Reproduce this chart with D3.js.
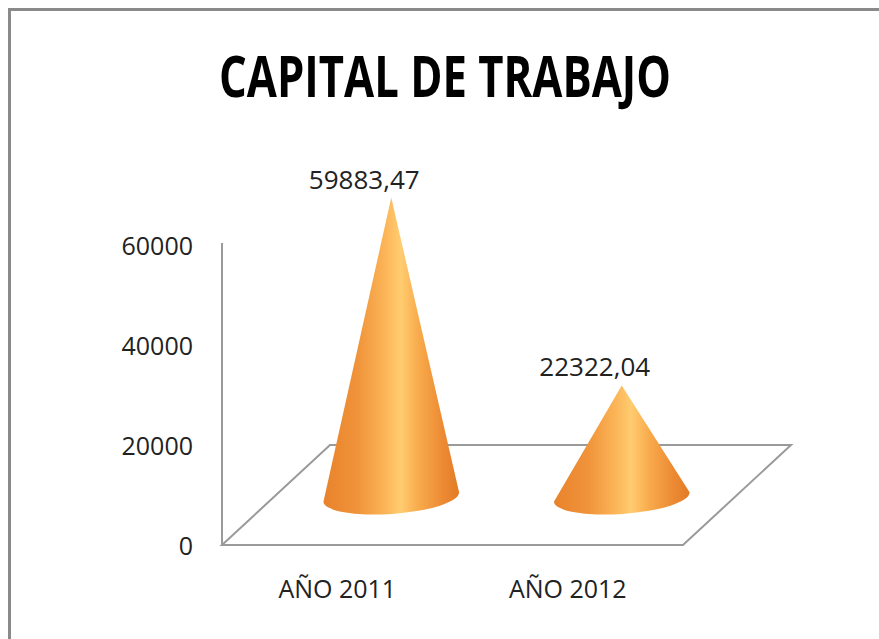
<!DOCTYPE html>
<html>
<head>
<meta charset="utf-8">
<script src="https://cdn.jsdelivr.net/npm/d3@7"></script>
<style>
  html, body { margin: 0; padding: 0; background: #ffffff; }
  svg { display: block; }
</style>
</head>
<body>
<svg id="chart" width="879" height="639"></svg>
<script>
// ---- data ----
const title = "CAPITAL DE TRABAJO";
const categories = ["AÑO 2011", "AÑO 2012"];
const values = [59883.47, 22322.04];
const valueLabels = ["59883,47", "22322,04"];
const yTicks = [0, 20000, 40000, 60000];

// ---- layout ----
const svg = d3.select("#chart");
const W = 879, H = 639;
const font = "'Open Sans', 'Liberation Sans', sans-serif";

// chart frame
svg.append("rect")
  .attr("x", 9.5).attr("y", 9.5)
  .attr("width", W + 20).attr("height", H + 20)
  .attr("fill", "#ffffff")
  .attr("stroke", "#8a8a8a")
  .attr("stroke-width", 3);

// title
svg.append("text")
  .attr("x", 445).attr("y", 97)
  .attr("text-anchor", "middle")
  .attr("font-family", font)
  .attr("font-weight", 700)
  .attr("font-size", 58)
  .attr("textLength", 452)
  .attr("lengthAdjust", "spacingAndGlyphs")
  .attr("fill", "#000")
  .text(title);

// scales (front plane)
const x = d3.scaleBand().domain(categories).range([222, 683]).padding(0);
const y = d3.scaleLinear().domain([0, 60000]).range([545, 245]);
const depthX = 108, depthY = -100;   // full floor depth offset
const midDX = depthX / 2, midDY = depthY / 2 + 2;

// floor
const x0 = x.range()[0], x1 = x.range()[1], y0 = y(0);
svg.append("path")
  .attr("d", `M${x0},${y0} L${x1},${y0} L${x1 + depthX},${y0 + depthY} L${x0 + depthX},${y0 + depthY} Z`)
  .attr("fill", "none")
  .attr("stroke", "#9a9a9a")
  .attr("stroke-width", 2);

// vertical axis line
svg.append("line")
  .attr("x1", x0).attr("x2", x0)
  .attr("y1", y(0)).attr("y2", y(60000) - 2)
  .attr("stroke", "#9a9a9a")
  .attr("stroke-width", 2);

// y tick labels
svg.append("g").selectAll("text")
  .data(yTicks).join("text")
  .attr("x", 193)
  .attr("y", d => y(d) + 10)
  .attr("text-anchor", "end")
  .attr("font-family", font)
  .attr("font-size", 25)
  .attr("fill", "#222")
  .text(d => d);

// x category labels
svg.append("g").selectAll("text")
  .data(categories).join("text")
  .attr("x", d => x(d) + x.bandwidth() / 2)
  .attr("y", 598)
  .attr("text-anchor", "middle")
  .attr("font-family", font)
  .attr("font-size", 25)
  .attr("fill", "#222")
  .text(d => d);

// cone gradient
const defs = svg.append("defs");
const grad = defs.append("linearGradient")
  .attr("id", "coneGrad")
  .attr("x1", "0%").attr("x2", "100%").attr("y1", "0%").attr("y2", "0%");
[
  [0, "#e8832c"], [0.25, "#f0933a"], [0.45, "#fbb457"], [0.57, "#ffcc70"],
  [0.7, "#f8ab4c"], [0.88, "#ec8a33"], [1, "#e27c25"]
].forEach(([o, c]) => grad.append("stop").attr("offset", o).attr("stop-color", c));

// cones
const rx = x.bandwidth() * 0.295, ry = 17, rot = -4;
const rad = rot * Math.PI / 180;
const cones = svg.append("g");
categories.forEach((c, i) => {
  const cx = x(c) + x.bandwidth() / 2 + midDX;
  const cy = y(0) + midDY;
  const tipY = y(values[i]) + midDY;
  const lx = cx - rx * Math.cos(rad), ly = cy - rx * Math.sin(rad);
  const rxp = cx + rx * Math.cos(rad), ryp = cy + rx * Math.sin(rad);
  cones.append("path")
    .attr("d", `M${cx},${tipY} L${lx},${ly} A${rx},${ry} ${rot} 0 0 ${rxp},${ryp} Z`)
    .attr("fill", "url(#coneGrad)");
  // value label
  cones.append("text")
    .attr("x", cx - 27)
    .attr("y", tipY - 9)
    .attr("text-anchor", "middle")
    .attr("font-family", font)
    .attr("font-size", 26)
    .attr("fill", "#222")
    .text(valueLabels[i]);
});
</script>
</body>
</html>
